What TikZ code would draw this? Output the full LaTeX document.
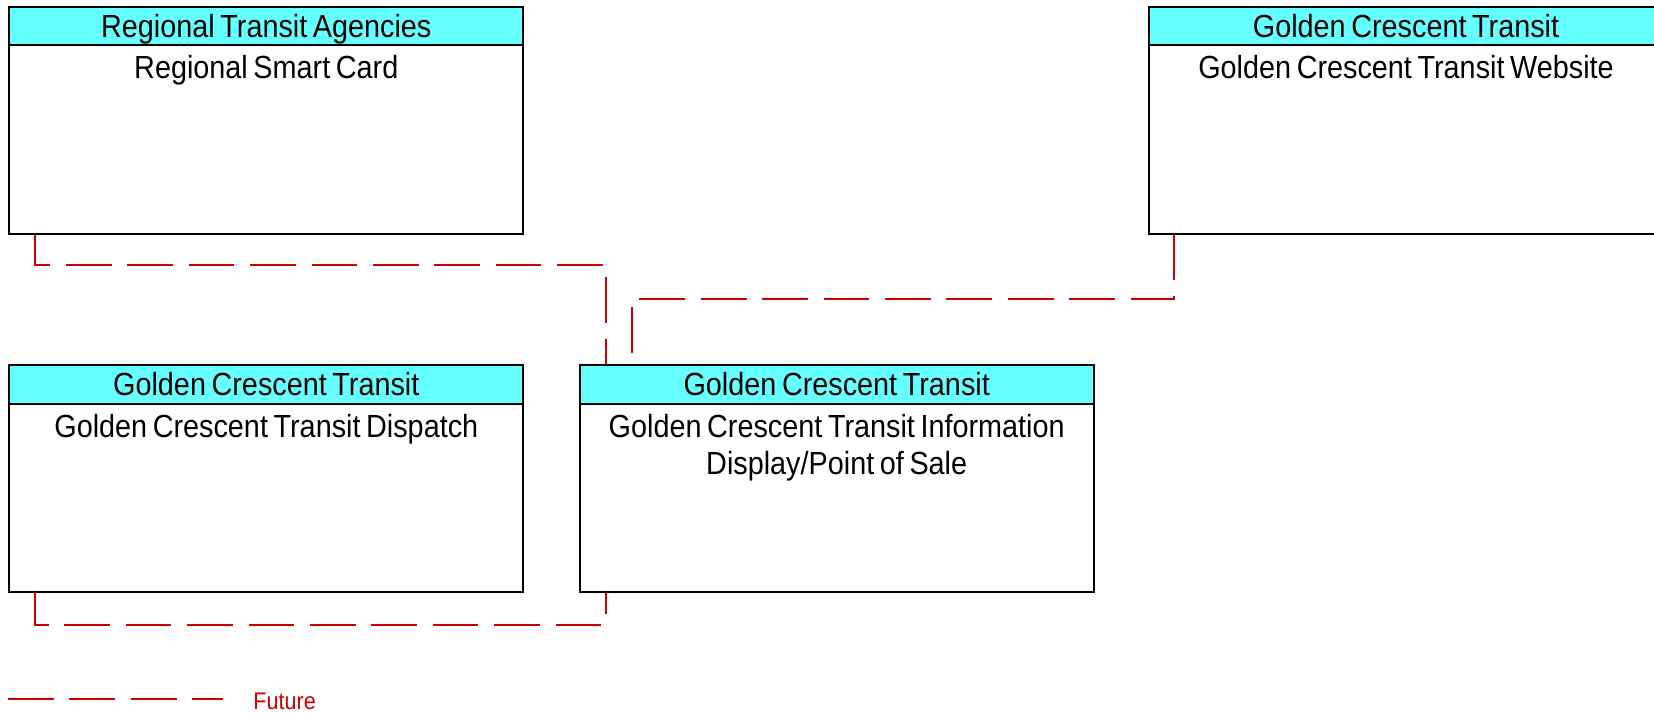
\documentclass[tikz,border=0pt]{standalone}
\usepackage{fontspec}
\setmainfont{Liberation Sans}[FakeStretch=0.9, WordSpace=0.7]
\usetikzlibrary{calc, positioning}
\definecolor{headcyan}{RGB}{102,255,255}
\definecolor{futurered}{RGB}{204,0,0}

\begin{document}
\begin{tikzpicture}[x=1pt, y=1pt,
    sysbox/.style={draw, line width=1pt, minimum width=257pt, minimum height=113.5pt, inner sep=0pt},
    syshead/.style={draw, line width=1pt, fill=headcyan, anchor=north, minimum width=257pt,
      minimum height=19.3pt, inner sep=0pt, text height=11.7pt, text depth=0pt,
      font=\fontsize{16pt}{18.5pt}\selectfont},
    systext/.style={anchor=north, text width=250pt, align=flush center, inner sep=4.5pt,
      font=\fontsize{16pt}{18.5pt}\selectfont},
    future/.style={draw=futurered, line width=1pt, dash pattern=on 22.85pt off 7.85pt}]
      \useasboundingbox (0,0) rectangle (827,356);
      \node[sysbox, anchor=north west] (card) at (4.15,353.15) {};
      \node[sysbox, below=64.65pt of card] (dispatch) {};
      \node[sysbox, right=27.2pt of dispatch] (info) {};
      \node[sysbox, right=311.85pt of card] (web) {};
      \node[syshead] (cardhead) at (card.north) {Regional Transit Agencies};
      \node[systext] (cardtext) at (cardhead.south) {Regional Smart Card};
      \node[syshead] (webhead) at (web.north) {Golden Crescent Transit};
      \node[systext] (webtext) at (webhead.south) {Golden Crescent Transit Website};
      \node[syshead] (dispatchhead) at (dispatch.north) {Golden Crescent Transit};
      \node[systext] (dispatchtext) at (dispatchhead.south) {Golden Crescent Transit Dispatch};
      \node[syshead] (infohead) at (info.north) {Golden Crescent Transit};
      \node[systext] (infotext) at (infohead.south) {Golden Crescent Transit Information\\Display/Point of Sale};
      \draw[future] ([xshift=13.1pt]card.south west) -- ++(0,-15) -| ([xshift=13.65pt]info.north west);
      \draw[future] ([xshift=12.85pt]web.south west) -- ++(0,-32) -| ([xshift=26.65pt]info.north west);
      \draw[future] ([xshift=13.1pt]dispatch.south west) -- ++(0,-15.8) -| ([xshift=13.65pt]info.south west);
      \coordinate (legstart) at (4,6.5);
      \coordinate (legendend) at (111.35,6.5);
      \draw[future] (legstart) -- (legendend);
      \node[anchor=base west, inner sep=0pt, text=futurered, font=\fontsize{12pt}{14pt}\selectfont] (futurelabel) at (126.5,1.5) {Future};
    \end{tikzpicture}
\end{document}
